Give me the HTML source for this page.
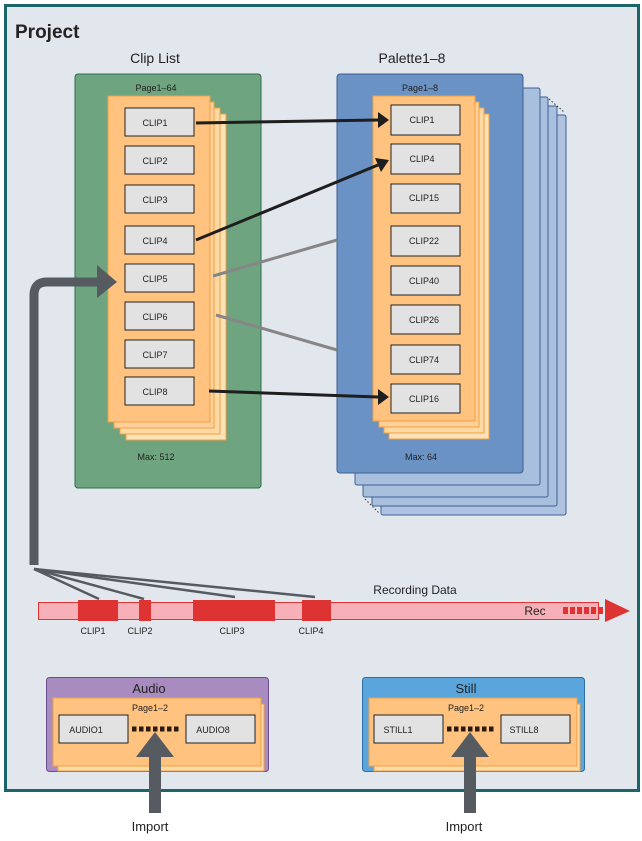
<!DOCTYPE html>
<html><head><meta charset="utf-8"><style>
body{margin:0;background:#fff}
svg{display:block;font-family:"Liberation Sans",sans-serif}
</style></head><body>
<svg width="642" height="841" viewBox="0 0 642 841">
<rect x="0" y="0" width="642" height="841" fill="#fff"/>
<rect x="5.5" y="5.5" width="633" height="785" fill="#e1e7ec" stroke="#1b6568" stroke-width="3"/>
<text x="15" y="38" font-size="19" font-weight="bold" fill="#222">Project</text>
<text x="155" y="63" font-size="14" fill="#222" text-anchor="middle">Clip List</text>
<text x="412" y="63" font-size="14" fill="#222" text-anchor="middle">Palette1–8</text>

<!-- Clip list -->
<rect x="75" y="74" width="186" height="414" rx="3" fill="#6ea47f" stroke="#2f6f47"/>
<text x="156" y="91" font-size="9" fill="#222" text-anchor="middle">Page1–64</text>
<g stroke="#f0a040" stroke-width="1">
<rect x="126" y="114" width="100" height="326" fill="#ffe2b8"/>
<rect x="120" y="108" width="100" height="326" fill="#ffd9a4"/>
<rect x="114" y="102" width="100" height="326" fill="#ffd09a"/>
<rect x="108" y="96" width="102" height="326" fill="#ffc27f"/>
</g>
<text x="156" y="460" font-size="9" fill="#222" text-anchor="middle">Max: 512</text>
<g fill="#e2e2e2" stroke="#222" stroke-width="1">
<rect x="125" y="108" width="69" height="28"/>
<rect x="125" y="146" width="69" height="28"/>
<rect x="125" y="185" width="69" height="28"/>
<rect x="125" y="226" width="69" height="28"/>
<rect x="125" y="264" width="69" height="28"/>
<rect x="125" y="302" width="69" height="28"/>
<rect x="125" y="340" width="69" height="28"/>
<rect x="125" y="377" width="69" height="28"/>
</g>
<g font-size="9" fill="#222" text-anchor="middle">
<text x="155" y="126">CLIP1</text><text x="155" y="164">CLIP2</text><text x="155" y="203">CLIP3</text><text x="155" y="244">CLIP4</text>
<text x="155" y="282">CLIP5</text><text x="155" y="320">CLIP6</text><text x="155" y="358">CLIP7</text><text x="155" y="395">CLIP8</text>
</g>

<!-- Palette stack -->
<g stroke="#3f5f95" stroke-width="1">
<rect x="381" y="115" width="185" height="400" rx="2" fill="#afc3e0"/>
<rect x="372" y="106" width="185" height="400" rx="2" fill="#a9bfde"/>
<rect x="363" y="97" width="185" height="400" rx="2" fill="#a9bfde"/>
<rect x="355" y="88" width="185" height="397" rx="2" fill="#a9bfde"/>
<rect x="337" y="74" width="186" height="399" rx="3" fill="#6b92c4"/>
</g>
<line x1="549" y1="99" x2="564" y2="112" stroke="#333" stroke-dasharray="1.5,2"/>
<line x1="365" y1="499" x2="379" y2="513" stroke="#333" stroke-dasharray="1.5,2"/>
<text x="420" y="91" font-size="9" fill="#222" text-anchor="middle">Page1–8</text>
<g stroke="#f0a040" stroke-width="1">
<rect x="389" y="114" width="100" height="325" fill="#ffe2b8"/>
<rect x="384" y="108" width="100" height="325" fill="#ffd9a4"/>
<rect x="379" y="102" width="100" height="325" fill="#ffd09a"/>
<rect x="373" y="96" width="102" height="325" fill="#ffc27f"/>
</g>
<text x="421" y="460" font-size="9" fill="#222" text-anchor="middle">Max: 64</text>
<g fill="#e2e2e2" stroke="#222" stroke-width="1">
<rect x="391" y="105" width="69" height="30"/>
<rect x="391" y="144" width="69" height="30"/>
<rect x="391" y="184" width="69" height="29"/>
<rect x="391" y="226" width="69" height="30"/>
<rect x="391" y="266" width="69" height="29"/>
<rect x="391" y="305" width="69" height="29"/>
<rect x="391" y="345" width="69" height="29"/>
<rect x="391" y="384" width="69" height="29"/>
</g>
<g font-size="9" fill="#222" text-anchor="middle">
<text x="422" y="123">CLIP1</text><text x="422" y="162">CLIP4</text><text x="424" y="201">CLIP15</text><text x="424" y="244">CLIP22</text>
<text x="424" y="284">CLIP40</text><text x="424" y="323">CLIP26</text><text x="424" y="363">CLIP74</text><text x="424" y="402">CLIP16</text>
</g>

<!-- connectors -->
<g stroke="#868686" stroke-width="3">
<line x1="213" y1="276" x2="337" y2="240"/>
<line x1="216" y1="315" x2="337" y2="350"/>
</g>
<g stroke="#1e1e1e" stroke-width="3">
<line x1="196" y1="123" x2="378" y2="120"/>
<line x1="196" y1="240" x2="378" y2="165"/>
<line x1="209" y1="391" x2="378" y2="397"/>
</g>
<g fill="#1e1e1e">
<polygon points="389,120 378,112 378,128"/>
<polygon points="389,160 375,158 381,172"/>
<polygon points="389,397 378,389 378,405"/>
</g>

<!-- gray big arrow -->
<path d="M34,565 L34,295 Q34,282 47,282 L100,282" fill="none" stroke="#555b60" stroke-width="9"/>
<polygon points="117,282 97,265 97,298" fill="#555b60"/>
<g stroke="#555b60" stroke-width="2.5">
<line x1="34" y1="569" x2="99" y2="599"/>
<line x1="34" y1="569" x2="144" y2="599"/>
<line x1="34" y1="569" x2="235" y2="597"/>
<line x1="34" y1="569" x2="315" y2="597"/>
</g>

<!-- recording -->
<text x="415" y="594" font-size="12" fill="#222" text-anchor="middle">Recording Data</text>
<rect x="38.5" y="602.5" width="560" height="17" fill="#f7b0b8" stroke="#d33"/>
<g fill="#dd3333">
<rect x="78" y="600" width="40" height="21"/>
<rect x="139" y="600" width="12" height="21"/>
<rect x="193" y="600" width="82" height="21"/>
<rect x="302" y="600" width="29" height="21"/>
<rect x="563" y="607" width="5" height="7"/><rect x="570" y="607" width="5" height="7"/><rect x="577" y="607" width="5" height="7"/><rect x="584" y="607" width="5" height="7"/><rect x="591" y="607" width="5" height="7"/><rect x="598" y="607" width="5" height="7"/>
<polygon points="605,599 630,611 605,622"/>
</g>
<text x="535" y="615" font-size="12" fill="#222" text-anchor="middle">Rec</text>
<g font-size="9" fill="#222" text-anchor="middle">
<text x="93" y="634">CLIP1</text><text x="140" y="634">CLIP2</text><text x="232" y="634">CLIP3</text><text x="311" y="634">CLIP4</text>
</g>

<!-- Audio -->
<rect x="46.5" y="677.5" width="222" height="94" rx="3" fill="#a88cbf" stroke="#6c4c8c"/>
<text x="149" y="693" font-size="13" fill="#222" text-anchor="middle">Audio</text>
<rect x="58" y="704" width="206" height="67" fill="#ffdcaa" stroke="#f0a040"/>
<rect x="53" y="698" width="208" height="68" fill="#ffc27f" stroke="#f0a040"/>
<text x="150" y="711" font-size="9" fill="#222" text-anchor="middle">Page1–2</text>
<rect x="59" y="715" width="69" height="28" fill="#e2e2e2" stroke="#222"/>
<rect x="186" y="715" width="69" height="28" fill="#e2e2e2" stroke="#222"/>
<text x="86" y="733" font-size="9" fill="#222" text-anchor="middle">AUDIO1</text>
<text x="213" y="733" font-size="9" fill="#222" text-anchor="middle">AUDIO8</text>
<line x1="132" y1="729" x2="181" y2="729" stroke="#2a1a10" stroke-width="5" stroke-dasharray="4.5,2.5"/>

<!-- Still -->
<rect x="362.5" y="677.5" width="222" height="94" rx="3" fill="#5aa6dc" stroke="#2e6ea8"/>
<text x="466" y="693" font-size="13" fill="#222" text-anchor="middle">Still</text>
<rect x="374" y="704" width="206" height="67" fill="#ffdcaa" stroke="#f0a040"/>
<rect x="369" y="698" width="208" height="68" fill="#ffc27f" stroke="#f0a040"/>
<text x="466" y="711" font-size="9" fill="#222" text-anchor="middle">Page1–2</text>
<rect x="374" y="715" width="69" height="28" fill="#e2e2e2" stroke="#222"/>
<rect x="501" y="715" width="69" height="28" fill="#e2e2e2" stroke="#222"/>
<text x="398" y="733" font-size="9" fill="#222" text-anchor="middle">STILL1</text>
<text x="524" y="733" font-size="9" fill="#222" text-anchor="middle">STILL8</text>
<line x1="447" y1="729" x2="496" y2="729" stroke="#2a1a10" stroke-width="5" stroke-dasharray="4.5,2.5"/>

<!-- Import arrows -->
<g fill="#555b60">
<rect x="149" y="755" width="12" height="58"/>
<polygon points="155,732 136,757 174,757"/>
<rect x="464" y="755" width="12" height="58"/>
<polygon points="470,732 451,757 489,757"/>
</g>
<text x="150" y="831" font-size="13" fill="#222" text-anchor="middle">Import</text>
<text x="464" y="831" font-size="13" fill="#222" text-anchor="middle">Import</text>
</svg>
</body></html>
